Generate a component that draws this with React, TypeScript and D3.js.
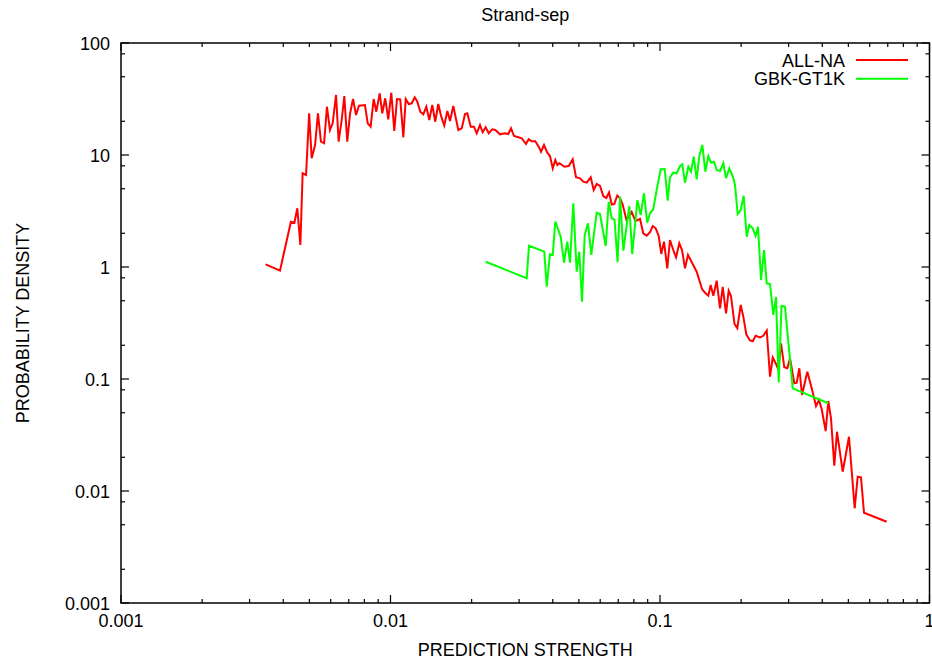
import React from 'react';
import * as d3 from 'd3';

const allNaX = [0.00344, 0.00389, 0.00427, 0.0044, 0.00451, 0.00463, 0.00472, 0.00486, 0.00499, 0.0051,
  0.00525, 0.00538, 0.00552, 0.00567, 0.00581, 0.00596, 0.0061, 0.00628, 0.00642, 0.00659,
  0.00674, 0.00691, 0.00708, 0.00726, 0.00745, 0.00764, 0.00804, 0.00823, 0.00844, 0.00866,
  0.00886, 0.00912, 0.00932, 0.00956, 0.00981, 0.01007, 0.01033, 0.01057, 0.01087, 0.01116,
  0.01139, 0.01168, 0.01199, 0.0123, 0.01258, 0.0129, 0.01324, 0.01358, 0.01393, 0.01429,
  0.01466, 0.01504, 0.01543, 0.01583, 0.01625, 0.01663, 0.0171, 0.01785, 0.01838, 0.0189,
  0.01928, 0.01985, 0.02041, 0.02089, 0.02148, 0.02198, 0.02255, 0.02314, 0.02386, 0.02448,
  0.02548, 0.0266, 0.02736, 0.028, 0.02873, 0.02981, 0.03069, 0.03183, 0.03257, 0.03341,
  0.03446, 0.03547, 0.03617, 0.03712, 0.03817, 0.03906, 0.03999, 0.04088, 0.04159, 0.0423,
  0.04329, 0.04415, 0.04584, 0.04744, 0.04879, 0.05049, 0.05193, 0.05346, 0.05533, 0.05675,
  0.05822, 0.05989, 0.0616, 0.0632, 0.0647, 0.0662, 0.0677, 0.0694, 0.0711, 0.0726,
  0.0751, 0.0785, 0.0811, 0.0843, 0.0867, 0.0893, 0.0918, 0.094, 0.0964, 0.0989,
  0.1011, 0.1035, 0.1064, 0.1089, 0.112, 0.1147, 0.1179, 0.1207, 0.1238, 0.127,
  0.1318, 0.1368, 0.1432, 0.1469, 0.1511, 0.1542, 0.1577, 0.1623, 0.167, 0.1709,
  0.1758, 0.1798, 0.1834, 0.189, 0.1936, 0.1993, 0.2038, 0.2091, 0.2158, 0.2208,
  0.2265, 0.235, 0.2417, 0.2489, 0.256, 0.262, 0.2695, 0.2748, 0.2812, 0.2892,
  0.2968, 0.3037, 0.3151, 0.3216, 0.3288, 0.3365, 0.3521, 0.3656, 0.3793, 0.389,
  0.3981, 0.4119, 0.4212, 0.431, 0.4433, 0.4537, 0.4764, 0.5026, 0.5277, 0.5415,
  0.5569, 0.5714, 0.6936];
const allNaY = [1.057, 0.927, 2.538, 2.486, 3.343, 1.572, 6.865, 6.629, 23.57, 9.343,
  12.29, 23.57, 13.14, 12.72, 26.99, 16.72, 19.19, 34.34, 13.14, 20.54,
  33.64, 13.14, 23.57, 31.62, 22.76, 27.55, 27.95, 19.19, 17.89, 31.62,
  24.36, 35.55, 23.57, 32.08, 20.83, 35.99, 16.38, 31.62, 31.43, 14.39,
  31.62, 28.54, 28.95, 32.75, 29.92, 24.36, 23.09, 26.99, 20.54, 27.95,
  19.83, 28.54, 21.98, 18.34, 24.71, 20.12, 27.38, 16.72, 17.31, 23.23,
  23.57, 17.89, 17.89, 15.62, 18.53, 15.95, 17.67, 15.62, 16.96, 16.72,
  15.3, 15.62, 15.4, 17.31, 14.78, 14.39, 14.1, 12.54, 13.81, 13.25,
  13.25, 11.86, 10.7, 12.29, 10.48, 9.797, 7.605, 9.024, 8.142, 8.432,
  8.142, 7.864, 7.978, 9.156, 6.323, 6.194, 5.774, 5.657, 6.323, 4.87,
  5.508, 5.286, 4.304, 4.131, 4.626, 3.614, 3.652, 4.349, 4.106, 3.652,
  2.628, 3.098, 2.575, 2.683, 2.0, 1.903, 2.041, 2.323, 2.216, 1.891,
  1.307, 1.682, 0.974, 1.742, 1.418, 1.221, 1.627, 1.418, 0.974, 1.28,
  1.079, 0.908, 0.636, 0.589, 0.554, 0.691, 0.554, 0.755, 0.428, 0.663,
  0.386, 0.614, 0.551, 0.31, 0.284, 0.458, 0.36, 0.2495, 0.2207, 0.2171,
  0.2435, 0.2356, 0.243, 0.271, 0.1048, 0.1556, 0.1361, 0.1221, 0.2084, 0.1272,
  0.1246, 0.153, 0.0915, 0.0927, 0.1246, 0.072, 0.1162, 0.0826, 0.0574, 0.0649,
  0.0536, 0.0343, 0.0636, 0.0446, 0.01682, 0.0338, 0.01487, 0.0305, 0.00701, 0.01342,
  0.01326, 0.0064, 0.00532];

const gbkX = [0.02255, 0.03202, 0.03265, 0.03721, 0.03798, 0.03906, 0.03999, 0.04088, 0.04281, 0.04404,
  0.04529, 0.04634, 0.04768, 0.04908, 0.05019, 0.05135, 0.05255, 0.05405, 0.05561, 0.05822,
  0.05989, 0.06288, 0.06451, 0.0662, 0.0678, 0.0696, 0.0711, 0.0731, 0.0769, 0.0789,
  0.0824, 0.0848, 0.0872, 0.0897, 0.0918, 0.0944, 0.0977, 0.1006, 0.1041, 0.1068,
  0.1089, 0.112, 0.1153, 0.1187, 0.121, 0.1238, 0.1274, 0.1303, 0.1334, 0.1368,
  0.1399, 0.1436, 0.1473, 0.1511, 0.1546, 0.1586, 0.1623, 0.167, 0.1718, 0.1758,
  0.1808, 0.1861, 0.1898, 0.1942, 0.1993, 0.2044, 0.2097, 0.2145, 0.2208, 0.2265,
  0.231, 0.2371, 0.2432, 0.2489, 0.256, 0.2633, 0.2695, 0.2757, 0.2824, 0.2909,
  0.3108, 0.4212];
const gbkY = [1.115, 0.793, 1.549, 1.37, 0.667, 1.299, 1.28, 2.538, 1.864, 1.092,
  1.682, 1.092, 3.705, 0.908, 1.37, 0.49, 1.931, 2.456, 1.28, 3.052,
  2.973, 1.54, 3.828, 2.721, 2.644, 1.102, 4.243, 1.398, 3.504, 1.301,
  3.964, 2.912, 4.55, 2.486, 3.015, 3.275, 5.212, 7.452, 7.499, 3.908,
  6.323, 6.95, 6.865, 7.978, 8.26, 5.657, 7.864, 7.095, 9.656, 6.067,
  9.797, 12.29, 7.095, 9.797, 8.535, 8.714, 7.346, 7.196, 8.432, 6.194,
  7.605, 6.494, 5.397, 2.973, 3.228, 4.331, 1.864, 2.371, 2.216, 1.891,
  2.29, 0.765, 1.418, 0.715, 0.705, 0.373, 0.54, 0.093, 0.448, 0.442,
  0.0826, 0.0607];

const xTickValues = [0.001, 0.01, 0.1, 1];
const xTickLabels = ['0.001', '0.01', '0.1', '1'];
const yTickValues = [0.001, 0.01, 0.1, 1, 10, 100];
const yTickLabels = ['0.001', '0.01', '0.1', '1', '10', '100'];
const seriesNames = ['ALL-NA', 'GBK-GT1K'];
const seriesColors = ['#ff0000', '#00ff00'];
const chartTitle = 'Strand-sep';
const xTitle = 'PREDICTION STRENGTH';
const yTitle = 'PROBABILITY DENSITY';

export default function App() {
  const W = 932, H = 661;
  const L = 121, R = 929.5, T = 43, B = 603;
  const x = d3.scaleLog().domain([0.001, 1]).range([L, R]);
  const y = d3.scaleLog().domain([0.001, 100]).range([B, T]);
  const line = d3.line<[number, number]>().x(d => x(d[0])).y(d => y(d[1]));
  const font = "'Liberation Sans', Arial, Helvetica, sans-serif";
  const fs = 18;

  const xMinor: number[] = [];
  [0.001, 0.01, 0.1].forEach(dec => { for (let k = 2; k <= 9; k++) xMinor.push(dec * k); });
  const yMinor: number[] = [];
  [0.001, 0.01, 0.1, 1, 10].forEach(dec => { [2, 5, 8].forEach(k => yMinor.push(dec * k)); });

  const series = [
    allNaX.map((v, i) => [v, allNaY[i]] as [number, number]),
    gbkX.map((v, i) => [v, gbkY[i]] as [number, number]),
  ];

  const majLen = 8, minLen = 4;
  const tk = { stroke: '#000', strokeWidth: 1.2 };

  return (
    <svg width={W} height={H} style={{ position: 'absolute', left: 0, top: 0, background: '#fff' }}
      fontFamily={font} fontSize={fs}>
      <rect x={0} y={0} width={W} height={H} fill="#fff" />
      {/* ticks */}
      {xTickValues.map(v => (
        <g key={'xM' + v}>
          <line x1={x(v)} x2={x(v)} y1={B} y2={B - majLen} {...tk} />
          <line x1={x(v)} x2={x(v)} y1={T} y2={T + majLen} {...tk} />
        </g>
      ))}
      {xMinor.map(v => (
        <g key={'xm' + v}>
          <line x1={x(v)} x2={x(v)} y1={B} y2={B - minLen} {...tk} />
          <line x1={x(v)} x2={x(v)} y1={T} y2={T + minLen} {...tk} />
        </g>
      ))}
      {yTickValues.map(v => (
        <g key={'yM' + v}>
          <line x1={L} x2={L + majLen} y1={y(v)} y2={y(v)} {...tk} />
          <line x1={R} x2={R - majLen} y1={y(v)} y2={y(v)} {...tk} />
        </g>
      ))}
      {yMinor.map(v => (
        <g key={'ym' + v}>
          <line x1={L} x2={L + minLen} y1={y(v)} y2={y(v)} {...tk} />
          <line x1={R} x2={R - minLen} y1={y(v)} y2={y(v)} {...tk} />
        </g>
      ))}
      {/* tick labels */}
      {xTickValues.map((v, i) => (
        <text key={'xl' + v} x={x(v)} y={627} textAnchor="middle" fill="#000">{xTickLabels[i]}</text>
      ))}
      {yTickValues.map((v, i) => (
        <text key={'yl' + v} x={110} y={y(v) + 6.5} textAnchor="end" fill="#000">{yTickLabels[i]}</text>
      ))}
      {/* series */}
      {series.map((s, i) => (
        <path key={'s' + i} d={line(s) || ''} fill="none" stroke={seriesColors[i]} strokeWidth={2} strokeLinejoin="miter" />
      ))}
      {/* frame */}
      <rect x={L} y={T} width={R - L} height={B - T} fill="none" stroke="#000" strokeWidth={1.5} />
      {/* legend */}
      {seriesNames.map((n, i) => (
        <g key={'lg' + i}>
          <text x={845} y={60 + i * 18.7 + 6.5} textAnchor="end" fill="#000">{n}</text>
          <line x1={856} x2={908} y1={60 + i * 18.7} y2={60 + i * 18.7} stroke={seriesColors[i]} strokeWidth={2} />
        </g>
      ))}
      {/* titles */}
      <text x={(L + R) / 2} y={21} textAnchor="middle" fill="#000">{chartTitle}</text>
      <text x={(L + R) / 2} y={656} textAnchor="middle" fill="#000">{xTitle}</text>
      <text transform={`translate(29,${(T + B) / 2}) rotate(-90)`} textAnchor="middle" fill="#000">{yTitle}</text>
    </svg>
  );
}
